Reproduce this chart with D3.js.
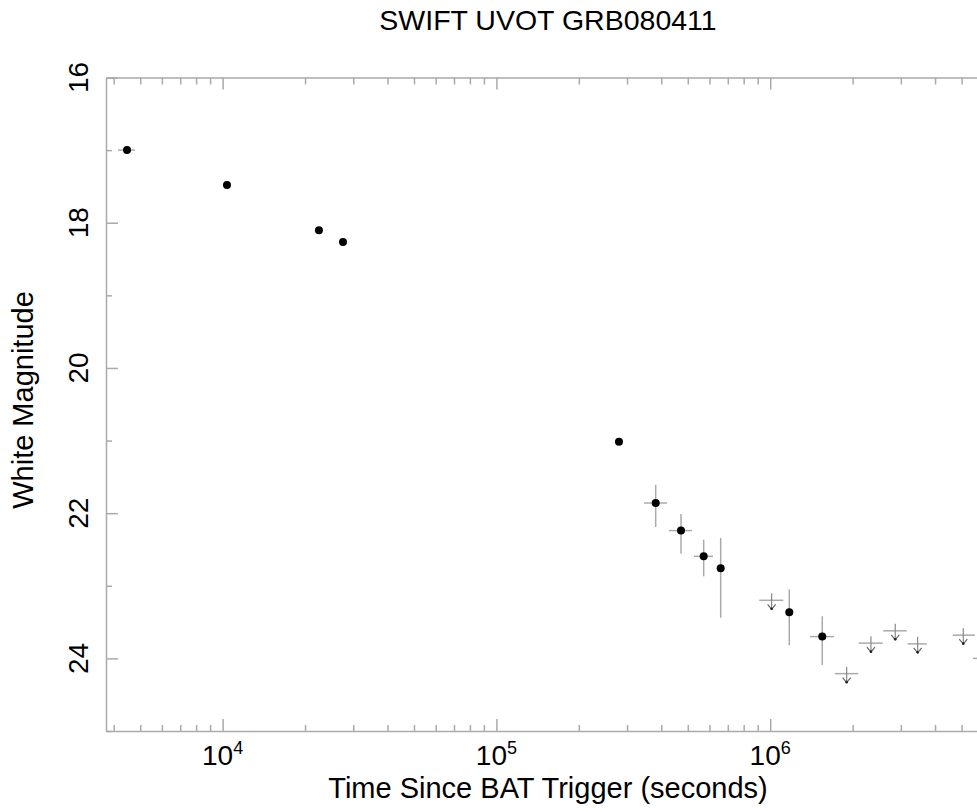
<!DOCTYPE html>
<html>
<head>
<meta charset="utf-8">
<script src="https://cdn.jsdelivr.net/npm/d3@7"></script>
<style>
  body { margin: 0; background: #fff; }
  svg { display: block; }
  text { font-family: Helvetica, Arial, 'Liberation Sans', sans-serif; fill: #000; }
  .axis path, .axis line { stroke: #aaa; stroke-width: 1.5; }
</style>
</head>
<body>
<script>
// detections (filled points)
var detTime = [4475, 10373, 22480, 27520, 280300, 381700, 472300, 571500, 659300, 1174000, 1549000];
var detMag = [17.0, 17.48, 18.105, 18.264, 21.016, 21.86, 22.24, 22.594, 22.76, 23.365, 23.70];
var detTimeLo = [4147, 10373, 22480, 27520, 280300, 345800, 427000, 526700, 659300, 1174000, 1397000];
var detTimeHi = [4786, 10373, 22480, 27520, 280300, 419800, 518000, 618000, 659300, 1174000, 1710000];
var detMagLo = [17.0, 17.48, 18.105, 18.264, 20.97, 21.61, 22.01, 22.365, 22.34, 23.05, 23.42];
var detMagHi = [17.0, 17.48, 18.105, 18.264, 21.06, 22.19, 22.56, 22.87, 23.44, 23.82, 24.09];

// upper limits (arrows)
var ulTime = [1012000, 1902000, 2333000, 2862000, 3456000, 5072000, 6300000];
var ulMag = [23.20, 24.21, 23.79, 23.62, 23.80, 23.68, 24.0];
var ulTimeLo = [912000, 1723000, 2104000, 2588000, 3177000, 4639000, 5505000];
var ulTimeHi = [1116000, 2097000, 2575000, 3150000, 3728000, 5595000, 7100000];

var yMajor = [16, 18, 20, 22, 24];
var yMinor = [17, 19, 21, 23, 25];
var xDecades = [4, 5, 6];

var W = 977, H = 808;
var pLeft = 106, pRight = 990, pTop = 77.5, pBottom = 731;

var svg = d3.select(document.body).append('svg')
    .attr('width', W)
    .attr('height', H);

var x = d3.scaleLog().domain([3750, 6.35e6]).range([pLeft, pRight]);
var y = d3.scaleLinear().domain([16, 25]).range([pTop, pBottom]);

var xMinor = [];
[1e3, 1e4, 1e5, 1e6].forEach(function(p) {
  for (var k = 2; k <= 9; k++) {
    var v = k * p;
    if (v > x.domain()[0] && v < x.domain()[1]) xMinor.push(v);
  }
});
var xMajor = xDecades.map(function(e) { return Math.pow(10, e); });

function addAxis(gen, tx, ty) {
  var g = svg.append('g').attr('class', 'axis')
      .attr('transform', 'translate(' + tx + ',' + ty + ')')
      .call(gen);
  g.selectAll('text').remove();
  return g;
}

// bottom and top x axes
addAxis(d3.axisBottom(x).tickValues(xMajor).tickSize(-12).tickSizeOuter(0), 0, pBottom);
addAxis(d3.axisBottom(x).tickValues(xMinor).tickSize(-6).tickSizeOuter(0), 0, pBottom)
    .select('.domain').remove();
addAxis(d3.axisTop(x).tickValues(xMajor).tickSize(-12).tickSizeOuter(0), 0, pTop);
addAxis(d3.axisTop(x).tickValues(xMinor).tickSize(-7).tickSizeOuter(0), 0, pTop)
    .select('.domain').remove();

// left and right y axes
addAxis(d3.axisLeft(y).tickValues(yMajor).tickSize(-12).tickSizeOuter(0), pLeft, 0);
addAxis(d3.axisLeft(y).tickValues(yMinor).tickSize(-6).tickSizeOuter(0), pLeft, 0)
    .select('.domain').remove();
addAxis(d3.axisRight(y).tickValues(yMajor).tickSize(-12).tickSizeOuter(0), pRight, 0);

// x tick labels, 10 with superscript exponent
xDecades.forEach(function(e) {
  var t = svg.append('text')
      .attr('x', x(Math.pow(10, e)))
      .attr('y', 765)
      .attr('text-anchor', 'middle')
      .style('font-size', '28px');
  t.append('tspan').text('10');
  t.append('tspan').attr('dy', -11).style('font-size', '18px').text(e);
});

// y tick labels, rotated
yMajor.forEach(function(v) {
  svg.append('text')
      .attr('transform', 'translate(88,' + y(v) + ') rotate(-90)')
      .attr('text-anchor', 'middle')
      .style('font-size', '28px')
      .text(v);
});

// titles
svg.append('text')
    .attr('x', 548).attr('y', 30)
    .attr('text-anchor', 'middle')
    .style('font-size', '28.5px')
    .text('SWIFT UVOT GRB080411');

svg.append('text')
    .attr('x', 548).attr('y', 798)
    .attr('text-anchor', 'middle')
    .style('font-size', '29px')
    .text('Time Since BAT Trigger (seconds)');

svg.append('text')
    .attr('transform', 'translate(33,400) rotate(-90)')
    .attr('text-anchor', 'middle')
    .style('font-size', '29px')
    .text('White Magnitude');

var plot = svg.append('g');
var errCol = '#aaa';

// detection error bars
detTime.forEach(function(t, i) {
  if (detTimeHi[i] > detTimeLo[i]) {
    plot.append('line')
        .attr('x1', x(detTimeLo[i])).attr('x2', x(detTimeHi[i]))
        .attr('y1', y(detMag[i])).attr('y2', y(detMag[i]))
        .attr('stroke', errCol).attr('stroke-width', 1.5);
  }
  if (detMagHi[i] > detMagLo[i]) {
    plot.append('line')
        .attr('x1', x(t)).attr('x2', x(t))
        .attr('y1', y(detMagLo[i])).attr('y2', y(detMagHi[i]))
        .attr('stroke', errCol).attr('stroke-width', 1.5);
  }
});

plot.selectAll('circle.det')
    .data(detTime)
    .enter().append('circle')
    .attr('class', 'det')
    .attr('cx', function(d) { return x(d); })
    .attr('cy', function(d, i) { return y(detMag[i]); })
    .attr('r', 4)
    .attr('fill', '#000');

// upper limits: bar plus downward arrow
ulTime.forEach(function(t, i) {
  var cx = x(t), cy = y(ulMag[i]);
  plot.append('line')
      .attr('x1', x(ulTimeLo[i])).attr('x2', x(ulTimeHi[i]))
      .attr('y1', cy).attr('y2', cy)
      .attr('stroke', errCol).attr('stroke-width', 1.5);
  plot.append('line')
      .attr('x1', cx).attr('x2', cx)
      .attr('y1', cy - 7).attr('y2', cy + 9)
      .attr('stroke', '#888').attr('stroke-width', 1.2);
  plot.append('path')
      .attr('d', 'M' + (cx - 4) + ',' + (cy + 4) + 'L' + cx + ',' + (cy + 9) + 'L' + (cx + 4) + ',' + (cy + 4))
      .attr('fill', 'none')
      .attr('stroke', '#666').attr('stroke-width', 1.2);
  plot.append('circle')
      .attr('cx', cx).attr('cy', cy + 8.5).attr('r', 1.3)
      .attr('fill', '#222');
});
</script>
</body>
</html>
